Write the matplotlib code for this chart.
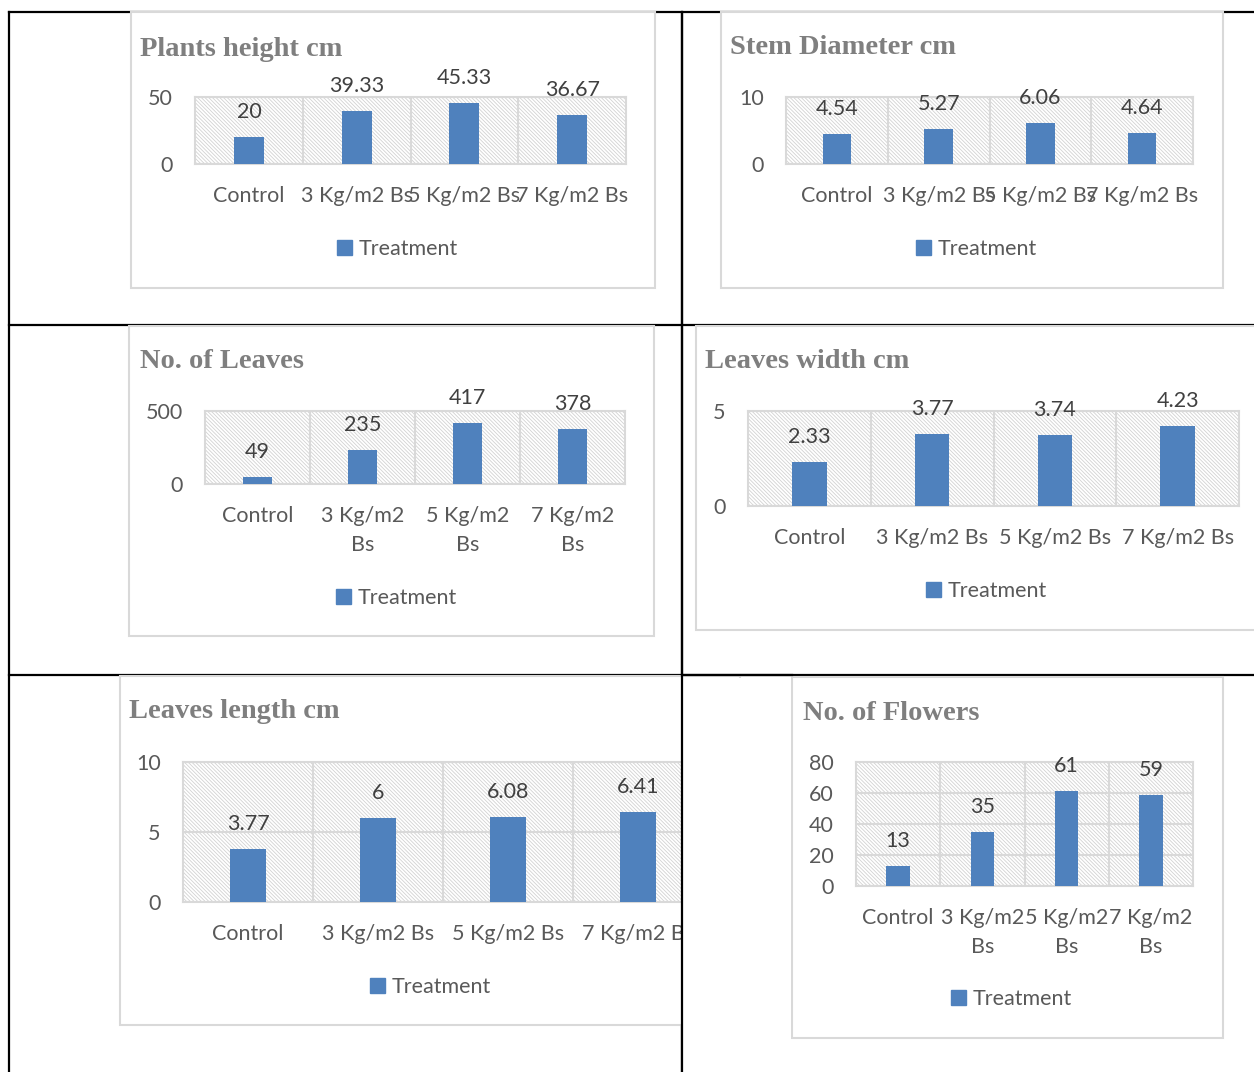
import matplotlib
matplotlib.use("Agg")
import matplotlib.pyplot as plt
from matplotlib.patches import Rectangle, Patch
from matplotlib.lines import Line2D

W, H = 1254, 1072

categories = ['Control', '3 Kg/m2 Bs', '5 Kg/m2 Bs', '7 Kg/m2 Bs']
categories_wrapped = ['Control', '3 Kg/m2\nBs', '5 Kg/m2\nBs', '7 Kg/m2\nBs']

plant_height = [20, 39.33, 45.33, 36.67]
stem_diameter = [4.54, 5.27, 6.06, 4.64]
leaves_number = [49, 235, 417, 378]
leaves_width = [2.33, 3.77, 3.74, 4.23]
leaves_length = [3.77, 6, 6.08, 6.41]
flowers_number = [13, 35, 61, 59]

titles = ['Plants height cm', 'Stem Diameter cm', 'No. of Leaves',
          'Leaves width cm', 'Leaves length cm', 'No. of Flowers']
yticks = [[0, 50], [0, 10], [0, 500], [0, 5], [0, 5, 10], [0, 20, 40, 60, 80]]

BAR = '#4f81bd'
GRID = '#d9d9d9'
TICK = '#595959'
LABEL = '#404040'
TITLE = '#7f7f7f'
SANS = 'Lato'
SERIF = 'Liberation Serif'
FS = 15.5

plt.rcParams['hatch.linewidth'] = 0.6


def frac(x0, y0, x1, y1):
    # pixel box (top-left origin) -> figure fraction rect
    return [x0 / W, 1 - y1 / H, (x1 - x0) / W, (y1 - y0) / H]


fig = plt.figure(figsize=(W / 100, H / 100), dpi=100)

# table grid lines
def hline(y, x0, x1, z=-3):
    fig.add_artist(Line2D([x0 / W, x1 / W], [1 - y / H, 1 - y / H],
                          color='black', lw=1.6, zorder=z))

def vline(x, y0, y1, z=-3):
    fig.add_artist(Line2D([x / W, x / W], [1 - y0 / H, 1 - y1 / H],
                          color='black', lw=1.6, zorder=z))

for y in [12, 325, 675]:
    hline(y, 9, W)
vline(9, 12, H)
vline(682, 12, H)

# chart settings: values, labels, chart box, plot area, title pos, legend pos
charts = [
    (plant_height, categories, (131, 12, 655, 288), (195, 97, 626, 164), (140, 50), (397, 249), 50),
    (stem_diameter, categories, (721, 12, 1223, 288), (786, 97, 1193, 164), (730, 47), (976, 249), 10),
    (leaves_number, categories_wrapped, (129, 326, 654, 636), (205, 411, 625, 484), (140, 361), (396, 598), 500),
    (leaves_width, categories, (696, 326, 1276, 630), (748, 411, 1239, 506), (705, 361), (986, 591), 5),
    (leaves_length, categories, (120, 676, 740, 1025), (183, 762, 703, 902), (129, 711), (430, 987), 10),
    (flowers_number, categories_wrapped, (792, 677, 1223, 1038), (856, 762, 1193, 886), (803, 714), (1011, 999), 80),
]

for i, (vals, cats, cbox, pbox, tpos, lpos, ymax) in enumerate(charts):
    x0, y0, x1, y1 = cbox
    fig.add_artist(Rectangle((x0 / W, 1 - y1 / H), (x1 - x0) / W, (y1 - y0) / H,
                             transform=fig.transFigure, facecolor='white',
                             edgecolor=GRID, lw=1.5, zorder=-2))
    fig.text(tpos[0] / W, 1 - tpos[1] / H, titles[i], fontsize=20.5,
             fontweight='bold', family=SERIF, color=TITLE, ha='left', va='center')

    ax = fig.add_axes(frac(*pbox))
    ax.patch.set_facecolor('white')
    ax.patch.set_edgecolor('#d2d2d2')
    ax.patch.set_hatch('\\' * 9)
    ax.set_axisbelow(True)

    x = range(len(vals))
    ax.bar(x, vals, width=0.28, color=BAR, zorder=3)
    for xi, v in zip(x, vals):
        ax.annotate(f'{v:g}', (xi, v), xytext=(0, 18), textcoords='offset points',
                    ha='center', va='center', fontsize=FS, family=SANS,
                    color=LABEL, annotation_clip=False)

    ax.set_xlim(-0.5, 3.5)
    ax.set_ylim(0, ymax)
    ax.set_yticks(yticks[i])
    ax.set_xticks(list(x))
    ax.set_xticklabels(cats, fontsize=FS, family=SANS, color=TICK, linespacing=1.55)
    for lab in ax.get_yticklabels():
        lab.set_fontsize(FS)
        lab.set_family(SANS)
        lab.set_color(TICK)
    ax.tick_params(axis='x', length=0, pad=16)
    ax.tick_params(axis='y', length=0, pad=16)

    ax.yaxis.grid(True, color=GRID, lw=1.5)
    for b in [0.5, 1.5, 2.5]:
        ax.axvline(b, color=GRID, lw=1.5, zorder=1)
    for s in ax.spines.values():
        s.set_color(GRID)
        s.set_linewidth(1.5)

    ax.legend(handles=[Patch(color=BAR)], labels=['Treatment'], loc='center',
              bbox_to_anchor=(lpos[0] / W, 1 - lpos[1] / H),
              bbox_transform=fig.transFigure, frameon=False,
              handlelength=0.7, handleheight=0.7, handletextpad=0.3,
              prop={'family': SANS, 'size': FS}, labelcolor=TICK)

# the leaves length chart is cut off at the table cell edge
fig.add_artist(Rectangle((683 / W, 0), (791 - 683) / W, 1 - 677.5 / H,
                         transform=fig.transFigure, facecolor='white',
                         edgecolor='none', zorder=5))
vline(682, 12, H, z=6)
hline(675, 682, 792, z=6)

fig.savefig('out.png', dpi=100)
